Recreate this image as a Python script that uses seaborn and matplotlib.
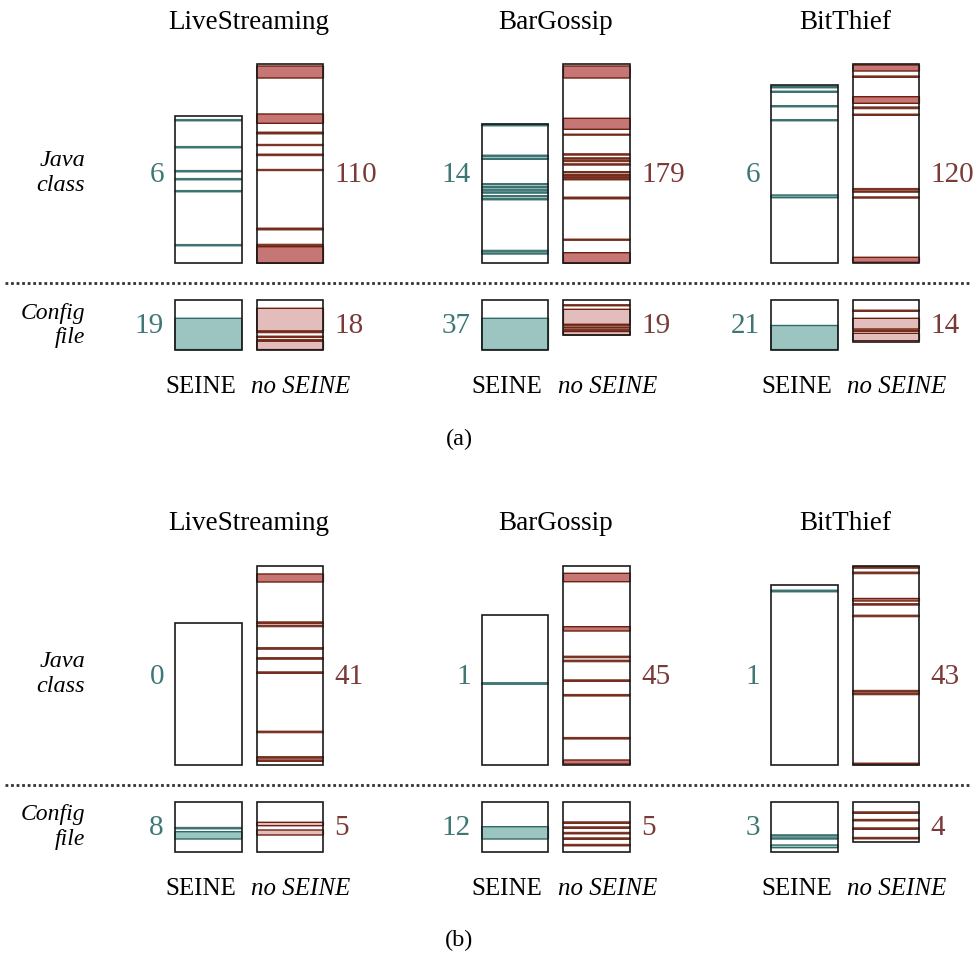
import numpy as np
import seaborn as sns
import matplotlib.pyplot as plt

#%% data (lengths / changed-line ranges in scaled line units, measured from top of file)
projects = ['LiveStreaming', 'BarGossip', 'BitThief']

a_java_count_seine = [6, 14, 6]
a_java_count_noseine = [110, 179, 120]
a_cfg_count_seine = [19, 37, 21]
a_cfg_count_noseine = [18, 19, 14]
b_java_count_seine = [0, 1, 1]
b_java_count_noseine = [41, 45, 43]
b_cfg_count_seine = [8, 12, 3]
b_cfg_count_noseine = [5, 5, 4]

a_java_len_seine = [147.6, 139.3, 178.3]
a_java_len_noseine = [199.3, 199.3, 199.3]
a_cfg_len_seine = [49.6, 49.6, 49.6]
a_cfg_len_noseine = [49.6, 35.0, 42.0]
b_java_len_seine = [141.7, 150.0, 180.0]
b_java_len_noseine = [199.0, 199.0, 199.0]
b_cfg_len_seine = [50.0, 50.0, 50.0]
b_cfg_len_noseine = [50.0, 50.0, 40.0]

a_java_bands_seine = [
    [(3.7, 5.3), (30.7, 32.3), (54.7, 56.3), (62.7, 64.3), (74.7, 76.3), (128.7, 130.3)],
    [(0, 2), (31, 32.5), (34, 35.5), (59.5, 61), (62.5, 64), (65.3, 66.8), (67.8, 69.3),
     (71.5, 73), (74.5, 76), (126.2, 127.6), (128.8, 130.2)],
    [(1, 3), (6, 7.5), (20.5, 22), (34.5, 36), (110, 112.7)],
]
a_java_bands_noseine = [
    [(2, 14), (50, 59.3), (68, 70), (80.3, 81.7), (90, 91.7), (105.3, 106.7),
     (164, 166), (180.2, 181.8), (182.7, 199.3)],
    [(2, 14), (54.3, 65.3), (70, 71.3), (89.7, 91.2), (93.7, 95.2), (96.2, 97.7), (99.7, 101.2),
     (107.5, 109), (110.5, 112), (112.7, 114), (114.7, 116), (133, 135), (175, 176.4),
     (188.7, 199.3)],
    [(1, 7), (11.9, 13.5), (32.7, 39.3), (42.9, 44.8), (50, 51.5), (124.4, 125.9), (126.9, 128.3),
     (132.8, 134.2), (193.3, 198.3)],
]
a_cfg_bands_seine = [[(18.3, 49.6)], [(18.3, 49.6)], [(25.5, 49.6)]]
a_cfg_bands_noseine = [
    [(8.3, 31), (31.2, 32.8), (36, 37.5), (39.4, 40.9), (41.2, 49.6)],
    [(4.6, 6), (9.3, 24.3), (24.5, 25.8), (26.9, 28.2), (29.4, 30.7), (31.5, 35)],
    [(10, 11.5), (18.3, 29), (30, 31.5), (33.3, 40.7)],
]
b_java_bands_seine = [[], [(67.6, 69.4)], [(5, 7)]]
b_java_bands_noseine = [
    [(8, 16), (55.8, 57.5), (59.1, 60.8), (81.6, 83.3), (91.6, 93.3), (105.8, 107.5),
     (165.1, 166.8), (190.6, 192.3), (193.8, 195.5)],
    [(7.3, 15.7), (60.7, 65), (90.1, 91.8), (94.1, 95.8), (113.8, 115.5), (128.4, 130.1),
     (171.4, 173.1), (194, 198)],
    [(0.5, 2.3), (6, 7.8), (32.5, 35), (37.6, 39.2), (49.1, 50.8), (124.3, 126.1), (127.1, 128.8),
     (197, 199)],
]
b_cfg_bands_seine = [[(25.6, 27.3), (30, 37.3)], [(25, 37.3)], [(33, 34.5), (36, 37.5), (43.3, 46)]]
b_cfg_bands_noseine = [
    [(20.6, 24), (28.3, 33.3)],
    [(20.1, 21.8), (25.1, 26.8), (30.6, 32.3), (36.1, 37.8), (42.6, 44.3)],
    [(10.1, 11.8), (17.6, 19.3), (26.1, 27.8), (35.6, 37.3)],
]

#%% style
sns.set_theme(style='white')
plt.rcParams['font.family'] = ['Liberation Serif', 'DejaVu Serif']
plt.rcParams['text.color'] = 'black'

teal_line = '#2f6b68'
teal_fill = '#9cc5c1'
teal_text = '#3e7775'
red_line = '#6d200f'
red_fill = '#c77676'
pink_fill = '#e3bcbc'
red_text = '#7a3a38'

seine_left = [175, 481.7, 771]
bar_gap = 81.7
bar_w = 66.7

fig = plt.figure(figsize=(9.74, 9.56), dpi=100)
ax = fig.add_axes([0, 0, 1, 1])
ax.set_xlim(0, 974)
ax.set_ylim(956, 0)
ax.axis('off')


def draw_bar(x, top, length, bands, line, fill):
    ax.bar(x, length, bottom=top, width=bar_w, align='edge', color='white', zorder=1)
    for s, e in bands:
        # single changed lines -> solid dark stroke, ranges -> filled block
        thin = e - s < 2.2
        face = line if thin else fill
        lw = 0.7 if thin else 1.0
        ax.bar(x, e - s, bottom=top + s, width=bar_w, align='edge', color=face,
               edgecolor=line, linewidth=lw, alpha=0.9 if thin else 1.0, snap=False, zorder=2)
    ax.bar(x, length, bottom=top, width=bar_w, align='edge', facecolor='none',
           edgecolor='#1a1a1a', linewidth=1.2, zorder=3)


def draw_panel(y0, java_len_s, java_len_n, java_b_s, java_b_n, cfg_len_s, cfg_len_n,
               cfg_b_s, cfg_b_n, jc_s, jc_n, cc_s, cc_n, caption):
    java_base = y0 + 263.3
    cfg_top = y0 + 300
    for i, name in enumerate(projects):
        xs = seine_left[i]
        xn = xs + bar_gap
        ax.text(xs + (bar_gap + bar_w) / 2, y0 + 22, name, ha='center', va='center', fontsize=19.5)
        draw_bar(xs, java_base - java_len_s[i], java_len_s[i], java_b_s[i], teal_line, '#7aa9a5')
        draw_bar(xn, java_base - java_len_n[i], java_len_n[i], java_b_n[i], red_line, red_fill)
        draw_bar(xs, cfg_top, cfg_len_s[i], cfg_b_s[i], teal_line, teal_fill)
        draw_bar(xn, cfg_top, cfg_len_n[i], cfg_b_n[i], red_line, pink_fill)
        ax.text(xs - 11, y0 + 175, str(jc_s[i]), ha='right', va='center', fontsize=21, color=teal_text)
        ax.text(xn + bar_w + 11, y0 + 175, str(jc_n[i]), ha='left', va='center', fontsize=21, color=red_text)
        ax.text(xs - 11, y0 + 326, str(cc_s[i]), ha='right', va='center', fontsize=21, color=teal_text)
        ax.text(xn + bar_w + 11, y0 + 326, str(cc_n[i]), ha='left', va='center', fontsize=21, color=red_text)
        ax.text(xs + bar_w / 2 - 8, y0 + 387, 'SEINE', ha='center', va='center', fontsize=18)
        ax.text(xn + bar_w / 2 + 11, y0 + 387, 'no SEINE', ha='center', va='center', fontsize=18, style='italic')
    ax.text(85, y0 + 160, 'Java', ha='right', va='center', fontsize=17.5, style='italic')
    ax.text(85, y0 + 185, 'class', ha='right', va='center', fontsize=17.5, style='italic')
    ax.text(85, y0 + 313, 'Config', ha='right', va='center', fontsize=17, style='italic')
    ax.text(85, y0 + 338, 'file', ha='right', va='center', fontsize=17, style='italic')
    ax.plot([5, 970], [y0 + 283, y0 + 283], ls=(0, (1, 1)), color='#333333', lw=2)
    ax.text(459, y0 + 439, caption, ha='center', va='center', fontsize=17.5)


draw_panel(0, a_java_len_seine, a_java_len_noseine, a_java_bands_seine, a_java_bands_noseine,
           a_cfg_len_seine, a_cfg_len_noseine, a_cfg_bands_seine, a_cfg_bands_noseine,
           a_java_count_seine, a_java_count_noseine, a_cfg_count_seine, a_cfg_count_noseine, '(a)')
draw_panel(501.7, b_java_len_seine, b_java_len_noseine, b_java_bands_seine, b_java_bands_noseine,
           b_cfg_len_seine, b_cfg_len_noseine, b_cfg_bands_seine, b_cfg_bands_noseine,
           b_java_count_seine, b_java_count_noseine, b_cfg_count_seine, b_cfg_count_noseine, '(b)')

fig.savefig('out.png', dpi=100)
